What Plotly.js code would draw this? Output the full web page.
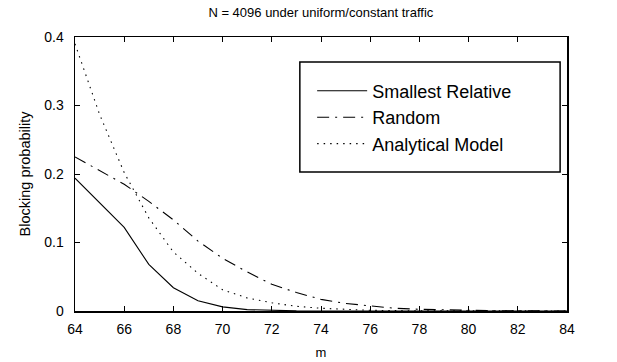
<!DOCTYPE html>
<html>
<head>
<meta charset="utf-8">
<script src="https://cdn.plot.ly/plotly-3.0.1.min.js"></script>
<style>html,body{margin:0;padding:0;background:#fff;}#chart{width:617px;height:362px;}</style>
</head>
<body>
<div id="chart"></div>
<script>
// Data
const m = [64,65,66,67,68,69,70,71,72,73,74,75,76,77,78,79,80,81,82,83,84];
const smallestRelative = [0.194,0.158,0.122,0.068,0.034,0.015,0.006,0.002,0.0007,0.0002,0.0001,0,0,0,0,0,0,0,0,0,0];
const randomSel = [0.225,0.205,0.185,0.160,0.133,0.102,0.077,0.057,0.039,0.027,0.017,0.011,0.007,0.004,0.0025,0.0015,0.0008,0.0004,0.0002,0.0001,0.00005];
const analytical = [0.39,0.287,0.202,0.136,0.086,0.055,0.031,0.019,0.012,0.0068,0.004,0.002,0.001,0.0005,0.0003,0.0002,0.0001,0.0001,0,0,0];
const seriesNames = ["Smallest Relative","Random","Analytical Model"];
const xTicks = [64,66,68,70,72,74,76,78,80,82,84];
const yTicks = [0,0.1,0.2,0.3,0.4];
const yTickText = ["0","0.1","0.2","0.3","0.4"];

const font = "Liberation Sans, Arial, sans-serif";
const traces = [
  {x:m, y:smallestRelative, name:seriesNames[0], mode:"lines", line:{color:"#000", width:1.1, dash:"solid"}},
  {x:m, y:randomSel, name:seriesNames[1], mode:"lines", line:{color:"#000", width:1.1, dash:"12px,6px,2px,6px"}},
  {x:m, y:analytical, name:seriesNames[2], mode:"lines", line:{color:"#000", width:1.1, dash:"1.5px,5px"}}
];
const axisCommon = {showline:true, linecolor:"#000", linewidth:1.5, mirror:"allticks", ticks:"inside", ticklen:5, tickwidth:1, tickcolor:"#000", showgrid:false, zeroline:false, tickfont:{family:font, size:14, color:"#000"}};
const layout = {
  width:617, height:362,
  margin:{l:75, r:50, t:37, b:51},
  paper_bgcolor:"#fff", plot_bgcolor:"#fff",
  title:{text:"N = 4096 under uniform/constant traffic", font:{family:font, size:13, color:"#000"}, x:0.52, xanchor:"center", y:0.965, yanchor:"middle"},
  xaxis:Object.assign({}, axisCommon, {range:[64,84], tickvals:xTicks, ticktext:xTicks.map(String), ticklabelstandoff:5, title:{text:"m", font:{family:font, size:13, color:"#000"}, standoff:11}}),
  yaxis:Object.assign({}, axisCommon, {range:[0,0.4], tickvals:yTicks, ticktext:yTickText, ticklabelstandoff:7, title:{text:"Blocking probability", font:{family:font, size:14.5, color:"#000"}, standoff:10}}),
  showlegend:true,
  legend:{x:0.482, y:0.87, xanchor:"left", yanchor:"top", bgcolor:"rgba(0,0,0,0)", borderwidth:0, font:{family:font, size:18, color:"#000"}, itemwidth:50, tracegroupgap:0},
  shapes:[{type:"rect", xref:"paper", yref:"paper", x0:0.457, x1:0.986, y0:0.507, y1:0.909, line:{color:"#000", width:1.5}, fillcolor:"#fff", layer:"below"}]
};
Plotly.newPlot("chart", traces, layout, {displayModeBar:false, staticPlot:true});
</script>
</body>
</html>
